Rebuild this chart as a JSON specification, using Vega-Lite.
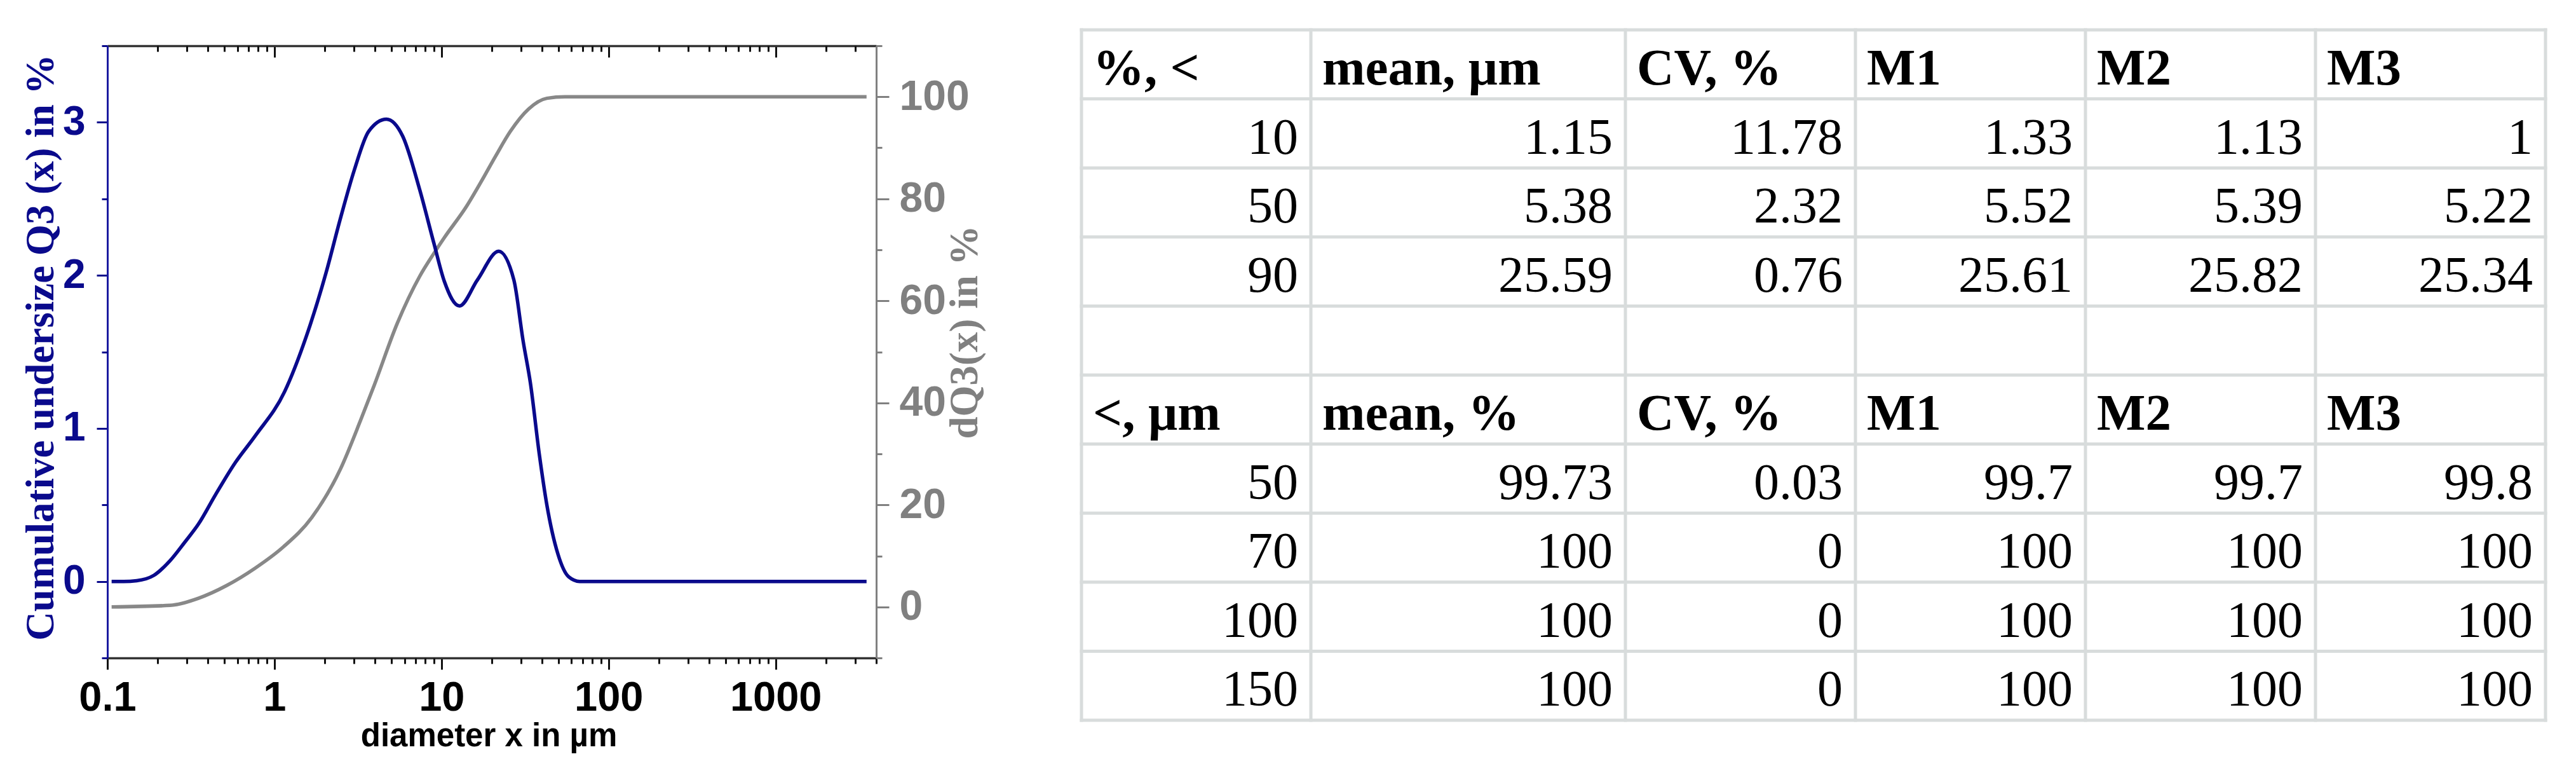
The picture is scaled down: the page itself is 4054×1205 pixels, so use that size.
{
  "$schema": "https://vega.github.io/schema/vega-lite/v6.json",
  "autosize": "none",
  "width": 1210,
  "height": 963,
  "padding": {"left": 169, "top": 72, "right": 2675, "bottom": 170},
  "background": "white",
  "config": {"view": {"stroke": null}, "axis": {"grid": false}},
  "datasets": {
    "density": [
      {"d": 0.106, "q3": 0}, {"d": 0.125, "q3": 0}, {"d": 0.15, "q3": 0.005}, {"d": 0.19, "q3": 0.04},
      {"d": 0.237, "q3": 0.135}, {"d": 0.29, "q3": 0.255}, {"d": 0.351, "q3": 0.375}, {"d": 0.443, "q3": 0.565},
      {"d": 0.582, "q3": 0.775}, {"d": 0.766, "q3": 0.95}, {"d": 1.15, "q3": 1.24}, {"d": 1.55, "q3": 1.6},
      {"d": 2.04, "q3": 2.02}, {"d": 2.48, "q3": 2.37}, {"d": 3.01, "q3": 2.69}, {"d": 3.66, "q3": 2.94},
      {"d": 4.68, "q3": 3.02}, {"d": 5.85, "q3": 2.91}, {"d": 7.4, "q3": 2.56}, {"d": 9.0, "q3": 2.21},
      {"d": 10.4, "q3": 1.96}, {"d": 12.8, "q3": 1.8}, {"d": 16.4, "q3": 1.97}, {"d": 22.0, "q3": 2.157},
      {"d": 27.1, "q3": 1.97}, {"d": 30.8, "q3": 1.57}, {"d": 34.0, "q3": 1.3}, {"d": 38.6, "q3": 0.82},
      {"d": 42.7, "q3": 0.5}, {"d": 49.7, "q3": 0.18}, {"d": 57.7, "q3": 0.03}, {"d": 67.1, "q3": 0},
      {"d": 3500, "q3": 0}
    ],
    "cumulative": [
      {"d": 0.106, "Q3": 0}, {"d": 0.237, "Q3": 0.3}, {"d": 0.351, "Q3": 1.7}, {"d": 0.518, "Q3": 4.2},
      {"d": 0.767, "Q3": 7.6}, {"d": 1.134, "Q3": 11.8}, {"d": 1.67, "Q3": 17.5}, {"d": 2.48, "Q3": 27.0},
      {"d": 3.27, "Q3": 36.5}, {"d": 3.96, "Q3": 43.5}, {"d": 5.42, "Q3": 55.5}, {"d": 7.4, "Q3": 64.8},
      {"d": 9.0, "Q3": 69.3}, {"d": 10.4, "Q3": 72.4}, {"d": 14.1, "Q3": 78.5}, {"d": 17.3, "Q3": 83.4},
      {"d": 21.1, "Q3": 88.4}, {"d": 25.8, "Q3": 93.2}, {"d": 33.2, "Q3": 97.6}, {"d": 42.7, "Q3": 99.7},
      {"d": 54.8, "Q3": 100}, {"d": 3500, "Q3": 100}
    ],
    "headers": [
      {"row": 0, "col": 0, "label": "%, <"}, {"row": 0, "col": 1, "label": "mean, µm"}, {"row": 0, "col": 2, "label": "CV, %"},
      {"row": 0, "col": 3, "label": "M1"}, {"row": 0, "col": 4, "label": "M2"}, {"row": 0, "col": 5, "label": "M3"},
      {"row": 5, "col": 0, "label": "<, µm"}, {"row": 5, "col": 1, "label": "mean, %"}, {"row": 5, "col": 2, "label": "CV, %"},
      {"row": 5, "col": 3, "label": "M1"}, {"row": 5, "col": 4, "label": "M2"}, {"row": 5, "col": 5, "label": "M3"}
    ],
    "cells": [
      {"row": 1, "col": 0, "v": 10}, {"row": 1, "col": 1, "v": 1.15}, {"row": 1, "col": 2, "v": 11.78}, {"row": 1, "col": 3, "v": 1.33}, {"row": 1, "col": 4, "v": 1.13}, {"row": 1, "col": 5, "v": 1},
      {"row": 2, "col": 0, "v": 50}, {"row": 2, "col": 1, "v": 5.38}, {"row": 2, "col": 2, "v": 2.32}, {"row": 2, "col": 3, "v": 5.52}, {"row": 2, "col": 4, "v": 5.39}, {"row": 2, "col": 5, "v": 5.22},
      {"row": 3, "col": 0, "v": 90}, {"row": 3, "col": 1, "v": 25.59}, {"row": 3, "col": 2, "v": 0.76}, {"row": 3, "col": 3, "v": 25.61}, {"row": 3, "col": 4, "v": 25.82}, {"row": 3, "col": 5, "v": 25.34},
      {"row": 6, "col": 0, "v": 50}, {"row": 6, "col": 1, "v": 99.73}, {"row": 6, "col": 2, "v": 0.03}, {"row": 6, "col": 3, "v": 99.7}, {"row": 6, "col": 4, "v": 99.7}, {"row": 6, "col": 5, "v": 99.8},
      {"row": 7, "col": 0, "v": 70}, {"row": 7, "col": 1, "v": 100}, {"row": 7, "col": 2, "v": 0}, {"row": 7, "col": 3, "v": 100}, {"row": 7, "col": 4, "v": 100}, {"row": 7, "col": 5, "v": 100},
      {"row": 8, "col": 0, "v": 100}, {"row": 8, "col": 1, "v": 100}, {"row": 8, "col": 2, "v": 0}, {"row": 8, "col": 3, "v": 100}, {"row": 8, "col": 4, "v": 100}, {"row": 8, "col": 5, "v": 100},
      {"row": 9, "col": 0, "v": 150}, {"row": 9, "col": 1, "v": 100}, {"row": 9, "col": 2, "v": 0}, {"row": 9, "col": 3, "v": 100}, {"row": 9, "col": 4, "v": 100}, {"row": 9, "col": 5, "v": 100}
    ],
    "hedges": [{"edge": 0}, {"edge": 1}, {"edge": 2}, {"edge": 3}, {"edge": 4}, {"edge": 5}, {"edge": 6}, {"edge": 7}, {"edge": 8}, {"edge": 9}, {"edge": 10}],
    "vedges": [{"edge": 0}, {"edge": 1}, {"edge": 2}, {"edge": 3}, {"edge": 4}, {"edge": 5}, {"edge": 6}]
  },
  "layer": [
    {
      "layer": [
        {
          "data": {"name": "cumulative"},
          "mark": {"type": "line", "color": "#888888", "strokeWidth": 5.5, "interpolate": "monotone"},
          "encoding": {
            "x": {
              "field": "d", "type": "quantitative",
              "scale": {"type": "log", "domain": [0.1, 4000], "nice": false},
              "axis": {
                "orient": "bottom", "values": [0.1, 1, 10, 100, 1000], "format": "~g",
                "tickSize": 18, "tickWidth": 3, "tickColor": "#111111",
                "domainColor": "#333333", "domainWidth": 3.5,
                "labelFont": "Liberation Sans Narrow, Arial Narrow, Liberation Sans, Arial, sans-serif",
                "labelFontWeight": "bold", "labelFontSize": 65, "labelColor": "#000000",
                "labelPadding": 64, "labelBaseline": "alphabetic", "labelFlush": false, "labelOverlap": false, "labelBound": false,
                "title": "diameter x in µm", "titleFont": "Liberation Sans", "titleFontWeight": "bold", "titleFontSize": 51,
                "titleColor": "#000000", "titleX": 600, "titleY": 138, "titleBaseline": "alphabetic", "titleAlign": "center"
              }
            },
            "y": {
              "field": "Q3", "type": "quantitative",
              "scale": {"domain": [-10, 110], "nice": false, "zero": false},
              "axis": {
                "orient": "right", "values": [0, 20, 40, 60, 80, 100],
                "tickSize": 20, "tickWidth": 3, "tickColor": "#808080",
                "domainColor": "#808080", "domainWidth": 3,
                "labelFont": "Liberation Sans Narrow, Arial Narrow, Liberation Sans, Arial, sans-serif",
                "labelFontWeight": "bold", "labelFontSize": 66, "labelColor": "#808080",
                "labelPadding": 16, "labelAlign": "left", "labelBaseline": "middle", "labelOverlap": false, "labelBound": false, "labelFlush": false,
                "title": "dQ3(x) in %", "titleFont": "Liberation Serif", "titleFontWeight": "bold", "titleFontSize": 63,
                "titleColor": "#808080", "titleAngle": -90, "titleX": 158, "titleY": 450,
                "titleBaseline": "alphabetic", "titleAlign": "center"
              }
            }
          }
        },
        {
          "data": {"name": "density"},
          "mark": {"type": "line", "color": "#0a0a8c", "strokeWidth": 5.5, "interpolate": "monotone"},
          "encoding": {
            "x": {
              "field": "d", "type": "quantitative",
              "scale": {"type": "log", "domain": [0.1, 4000], "nice": false},
              "axis": {
                "orient": "bottom",
                "values": [0.2, 0.3, 0.4, 0.5, 0.6, 0.7, 0.8, 0.9, 2, 3, 4, 5, 6, 7, 8, 9, 20, 30, 40, 50, 60, 70, 80, 90, 200, 300, 400, 500, 600, 700, 800, 900, 2000, 3000, 4000],
                "tickSize": 9, "tickWidth": 3, "tickColor": "#111111",
                "labels": false, "domain": false, "title": null
              }
            },
            "y": {
              "field": "q3", "type": "quantitative",
              "scale": {"domain": [-0.5, 3.5], "nice": false, "zero": false},
              "axis": {
                "orient": "left", "values": [0, 1, 2, 3],
                "tickSize": 17, "tickWidth": 3, "tickColor": "#0a0a8c",
                "domainColor": "#1a1aa0", "domainWidth": 3,
                "labelFont": "Liberation Sans Narrow, Arial Narrow, Liberation Sans, Arial, sans-serif",
                "labelFontWeight": "bold", "labelFontSize": 64, "labelColor": "#0a0a8c",
                "labelPadding": 18, "labelOverlap": false, "labelBound": false, "labelFlush": false,
                "title": "Cumulative undersize Q3 (x) in %", "titleFont": "Liberation Serif", "titleFontWeight": "bold",
                "titleFontSize": 63, "titleColor": "#0a0a8c", "titleAngle": -90, "titleX": -86, "titleY": 474,
                "titleBaseline": "alphabetic", "titleAlign": "center"
              }
            }
          }
        },
        {
          "data": {"name": "density"},
          "mark": {"type": "line", "opacity": 0},
          "encoding": {
            "x": {
              "field": "d", "type": "quantitative",
              "scale": {"type": "log", "domain": [0.1, 4000], "nice": false},
              "axis": {
                "orient": "bottom", "offset": -963, "values": [0.1, 1, 10, 100, 1000],
                "tickSize": 18, "tickWidth": 3, "tickColor": "#111111",
                "domain": true, "domainColor": "#333333", "domainWidth": 3.5,
                "labels": false, "title": null
              }
            },
            "y": {
              "field": "q3", "type": "quantitative",
              "scale": {"domain": [-0.5, 3.5], "nice": false, "zero": false},
              "axis": {
                "orient": "left", "values": [-0.5, 0.5, 1.5, 2.5, 3.5],
                "tickSize": 9, "tickWidth": 3, "tickColor": "#0a0a8c",
                "labels": false, "domain": false, "title": null
              }
            }
          }
        },
        {
          "data": {"name": "cumulative"},
          "mark": {"type": "line", "opacity": 0},
          "encoding": {
            "x": {
              "field": "d", "type": "quantitative",
              "scale": {"type": "log", "domain": [0.1, 4000], "nice": false},
              "axis": {
                "orient": "bottom", "offset": -963,
                "values": [0.2, 0.3, 0.4, 0.5, 0.6, 0.7, 0.8, 0.9, 2, 3, 4, 5, 6, 7, 8, 9, 20, 30, 40, 50, 60, 70, 80, 90, 200, 300, 400, 500, 600, 700, 800, 900, 2000, 3000, 4000],
                "tickSize": 9, "tickWidth": 3, "tickColor": "#111111",
                "labels": false, "domain": false, "title": null
              }
            },
            "y": {
              "field": "Q3", "type": "quantitative",
              "scale": {"domain": [-10, 110], "nice": false, "zero": false},
              "axis": {
                "orient": "right", "values": [-10, 10, 30, 50, 70, 90, 110],
                "tickSize": 9, "tickWidth": 3, "tickColor": "#808080",
                "labels": false, "domain": false, "title": null
              }
            }
          }
        }
      ],
      "resolve": {"scale": {"y": "independent"}, "axis": {"x": "independent", "y": "independent"}}
    },
    {
      "layer": [
        {
          "data": {"name": "hedges"},
          "mark": {"type": "rule", "color": "#d8dcdc", "strokeWidth": 5, "strokeCap": "square"},
          "encoding": {
            "y": {"field": "edge", "type": "quantitative", "scale": {"domain": [0, 10], "range": [-25, 1061], "nice": false, "zero": false}, "axis": null},
            "x": {"datum": 0, "type": "quantitative", "scale": {"domain": [0, 1, 2, 3, 4, 5, 6], "range": [1533, 1894, 2389, 2751, 3113, 3475, 3837], "nice": false, "zero": false}, "axis": null},
            "x2": {"datum": 6}
          }
        },
        {
          "data": {"name": "vedges"},
          "mark": {"type": "rule", "color": "#d8dcdc", "strokeWidth": 5, "strokeCap": "square"},
          "encoding": {
            "x": {"field": "edge", "type": "quantitative", "scale": {"domain": [0, 1, 2, 3, 4, 5, 6], "range": [1533, 1894, 2389, 2751, 3113, 3475, 3837], "nice": false, "zero": false}, "axis": null},
            "y": {"datum": 0, "type": "quantitative", "scale": {"domain": [0, 10], "range": [-25, 1061], "nice": false, "zero": false}, "axis": null},
            "y2": {"datum": 10}
          }
        },
        {
          "data": {"name": "headers"},
          "mark": {"type": "text", "font": "Liberation Serif", "fontWeight": "bold", "fontSize": 81, "align": "left", "baseline": "alphabetic", "dx": 18, "dy": 86, "color": "#000000"},
          "encoding": {
            "x": {"field": "col", "type": "quantitative", "scale": {"domain": [0, 1, 2, 3, 4, 5, 6], "range": [1533, 1894, 2389, 2751, 3113, 3475, 3837], "nice": false, "zero": false}, "axis": null},
            "y": {"field": "row", "type": "quantitative", "scale": {"domain": [0, 10], "range": [-25, 1061], "nice": false, "zero": false}, "axis": null},
            "text": {"field": "label", "type": "nominal"}
          }
        },
        {
          "data": {"name": "cells"},
          "mark": {"type": "text", "font": "Liberation Serif", "fontSize": 80, "align": "right", "baseline": "alphabetic", "dx": -20, "dy": 86, "color": "#000000"},
          "encoding": {
            "x": {"field": "col", "type": "quantitative", "scale": {"domain": [0, 1, 2, 3, 4, 5], "range": [1894, 2389, 2751, 3113, 3475, 3837], "nice": false, "zero": false}, "axis": null},
            "y": {"field": "row", "type": "quantitative", "scale": {"domain": [0, 10], "range": [-25, 1061], "nice": false, "zero": false}, "axis": null},
            "text": {"field": "v", "type": "quantitative", "format": "~f"}
          }
        }
      ],
      "resolve": {"scale": {"x": "independent"}}
    }
  ],
  "resolve": {"scale": {"x": "independent", "y": "independent"}}
}
